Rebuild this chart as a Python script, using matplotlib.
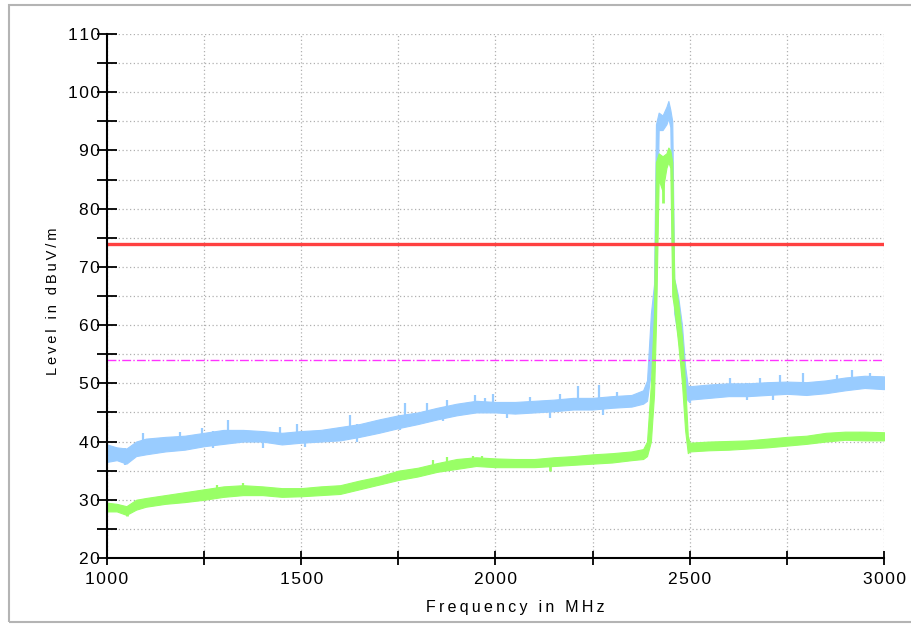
"""Radiated emission scan, 1-3 GHz: peak and average traces with limit lines."""

import matplotlib.pyplot as plt
import numpy as np
from matplotlib.patches import Rectangle
from matplotlib.ticker import FixedLocator, MultipleLocator

plt.rcParams["font.family"] = ["Liberation Sans", "DejaVu Sans"]

# frequencies (MHz) at which the trace envelopes were read
freq_mhz = [
    1000, 1025, 1050, 1075, 1100, 1150, 1200, 1250, 1300, 1350, 1400, 1450,
    1500, 1550, 1600, 1650, 1700, 1750, 1800, 1850, 1900, 1950, 2000, 2050,
    2100, 2150, 2200, 2250, 2300, 2350, 2380, 2390, 2400, 2408, 2413, 2420,
    2430, 2440, 2445, 2450, 2455, 2460, 2470, 2480, 2488, 2495, 2500, 2550,
    2600, 2650, 2700, 2750, 2800, 2850, 2900, 2950, 3000,
]

# peak detector trace (light blue band), dBuV/m
peak_low = [
    36.5, 36.8, 36.2, 37.5, 37.8, 38.3, 38.6, 39.2, 39.6, 40.0, 40.0, 39.5,
    39.8, 40.0, 40.2, 40.8, 41.5, 42.3, 43.0, 43.8, 44.5, 45.0, 45.0, 44.8,
    45.0, 45.2, 45.5, 45.5, 45.8, 46.0, 46.5, 47.0, 52.0, 58.0, 64.0, 93.5,
    93.5, 94.5, 95.5, 94.0, 70.0, 62.0, 58.0, 52.0, 48.0, 47.0, 47.2, 47.5,
    47.8, 47.8, 48.0, 48.2, 48.0, 48.3, 48.8, 49.2, 49.0,
]
peak_high = [
    39.5, 39.0, 38.8, 40.0, 40.5, 40.8, 41.0, 41.5, 42.0, 42.0, 41.8, 41.5,
    41.8, 42.0, 42.5, 43.0, 43.8, 44.5, 45.0, 45.8, 46.5, 47.0, 46.8, 46.8,
    47.0, 47.2, 47.5, 47.5, 47.8, 48.0, 48.8, 50.5, 62.0, 67.0, 94.5, 96.5,
    96.0, 97.5, 98.5, 97.0, 95.0, 68.0, 65.0, 60.0, 53.0, 49.5, 49.5, 49.8,
    50.0, 50.0, 50.2, 50.3, 50.2, 50.5, 51.0, 51.3, 51.2,
]

# average detector trace (light green band), dBuV/m
avg_low = [
    28.0, 28.0, 27.4, 28.3, 28.8, 29.3, 29.6, 30.0, 30.5, 30.8, 30.8, 30.5,
    30.6, 30.8, 31.0, 31.8, 32.6, 33.4, 34.0, 34.8, 35.3, 35.8, 35.6, 35.6,
    35.6, 35.8, 36.0, 36.2, 36.4, 36.8, 37.0, 37.5, 40.0, 48.0, 60.0, 85.0,
    83.0, 87.0, 88.0, 87.0, 65.0, 63.0, 57.0, 50.0, 42.0, 38.0, 38.3, 38.5,
    38.6, 38.8, 39.0, 39.3, 39.6, 40.0, 40.3, 40.2, 40.2,
]
avg_high = [
    29.5, 29.3, 28.9, 30.0, 30.3, 30.8, 31.3, 31.8, 32.3, 32.5, 32.3, 32.0,
    32.0, 32.3, 32.5, 33.3, 34.0, 35.0, 35.5, 36.3, 37.0, 37.3, 37.1, 37.0,
    37.0, 37.3, 37.5, 37.8, 38.0, 38.3, 38.7, 40.0, 50.0, 62.0, 88.0, 89.5,
    89.0, 89.5, 90.5, 90.0, 88.0, 68.0, 64.0, 58.0, 50.0, 41.0, 39.8, 40.0,
    40.1, 40.2, 40.5, 40.8, 41.0, 41.5, 41.7, 41.7, 41.6,
]

# single-sample spikes sticking out of the bands (freq MHz, level dBuV/m)
peak_up_freq = [1093, 1188, 1245, 1311, 1445, 1489, 1625, 1767, 1823, 1875,
                1947, 1973, 1994, 2089, 2166, 2212, 2266, 2313, 2604, 2681,
                2732, 2791, 2879, 2917, 2964]
peak_up_top = [41.5, 41.6, 42.3, 43.7, 42.5, 43.0, 44.6, 46.6, 46.6, 47.1,
               48.0, 47.5, 48.2, 47.7, 48.2, 49.5, 49.7, 48.5, 50.9, 50.9,
               51.4, 51.8, 51.5, 52.3, 51.8]
peak_down_freq = [1046, 1273, 1402, 1510, 1643, 1754, 1865, 2030, 2140, 2277,
                  2501, 2647, 2714]
peak_down_bottom = [36.0, 38.9, 38.9, 39.1, 40.0, 42.0, 43.5, 44.0, 44.0,
                    44.6, 46.6, 47.1, 47.1]
avg_up_freq = [1283, 1350, 1840, 1875, 1942, 1965, 2938]
avg_up_top = [32.5, 32.8, 36.8, 37.3, 37.5, 37.5, 41.6]
avg_down_freq = [1051, 2140, 2432]
avg_down_bottom = [27.2, 35.0, 81.0]

peak_limit = 74.0
avg_limit = 54.0

x_major = [1000, 1500, 2000, 2500, 3000]
y_major = [20, 30, 40, 50, 60, 70, 80, 90, 100, 110]

BLUE = "#99ccff"
GREEN = "#99ff66"


def spaced(text, gap="\u2009"):
    return gap.join(text)


fig = plt.figure(figsize=(9.12, 6.24), dpi=100)
ax = fig.add_axes([0.1173, 0.1058, 0.852, 0.8397])

fig.patches.append(
    Rectangle((9 / 912, 2 / 624), 1.2, 617 / 624, transform=fig.transFigure,
              fill=False, edgecolor="#b4b4b4", linewidth=1.5)
)

# peak trace
ax.fill_between(freq_mhz, peak_low, peak_high, color=BLUE, linewidth=0.8,
                edgecolor=BLUE, zorder=3)
ax.vlines(peak_up_freq, np.interp(peak_up_freq, freq_mhz, peak_low),
          peak_up_top, color=BLUE, linewidth=1.6, zorder=3)
ax.vlines(peak_down_freq, peak_down_bottom,
          np.interp(peak_down_freq, freq_mhz, peak_high),
          color=BLUE, linewidth=1.6, zorder=3)

# average trace
ax.fill_between(freq_mhz, avg_low, avg_high, color=GREEN, linewidth=0.8,
                edgecolor=GREEN, zorder=4)
ax.vlines(avg_up_freq, np.interp(avg_up_freq, freq_mhz, avg_low),
          avg_up_top, color=GREEN, linewidth=1.6, zorder=4)
ax.vlines(avg_down_freq, avg_down_bottom,
          np.interp(avg_down_freq, freq_mhz, avg_high),
          color=GREEN, linewidth=2.0, zorder=4)

ax.axhline(peak_limit, color="#ff4040", linewidth=2.4, zorder=5)
ax.axhline(avg_limit, color="#ff33ff", linewidth=1.0, linestyle="-.", zorder=5)

ax.set_xlim(1000, 3000)
ax.set_ylim(20, 110)

ax.xaxis.set_major_locator(FixedLocator(x_major))
ax.xaxis.set_minor_locator(MultipleLocator(250))
ax.yaxis.set_major_locator(FixedLocator(y_major))
ax.yaxis.set_minor_locator(MultipleLocator(5))
ax.set_xticklabels([spaced(str(v), "\u200a") for v in x_major], fontsize=12.5)
ax.set_yticklabels([spaced(str(v), "\u200a") for v in y_major], fontsize=12.5)

ax.tick_params(which="both", direction="inout", length=14, width=1.3,
               color="black", pad=-2)
ax.tick_params(axis="x", which="both", length=10, pad=5)

ax.grid(which="both", color="#b0b0b0", linestyle=(0, (1, 2)), linewidth=0.9)
ax.set_axisbelow(True)

for side in ("top", "right"):
    ax.spines[side].set_visible(False)
for side in ("left", "bottom"):
    ax.spines[side].set_linewidth(1.5)
    ax.spines[side].set_zorder(6)

ax.set_xlabel(spaced("Frequency in MHz"), fontsize=11.5)
ax.set_ylabel(spaced("Level in dBuV/m"), fontsize=10.5)
ax.xaxis.set_label_coords(0.526, -0.08)
ax.yaxis.set_label_coords(-0.061, 0.49)

fig.savefig("out.png", dpi=100)
